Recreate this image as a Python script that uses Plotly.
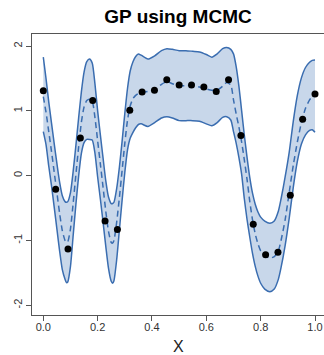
import plotly.graph_objects as go

# observed data points
obs_x = [0.0, 0.0455, 0.0909, 0.1364, 0.1818, 0.2273, 0.2727, 0.3182, 0.3636, 0.4091, 0.4545,
         0.5, 0.5455, 0.5909, 0.6364, 0.6818, 0.7273, 0.7727, 0.8182, 0.8636, 0.9091, 0.9545, 1.0]
obs_y = [1.31, -0.21, -1.13, 0.58, 1.16, -0.70, -0.83, 1.01, 1.29, 1.32, 1.48,
         1.40, 1.40, 1.37, 1.30, 1.48, 0.62, -0.75, -1.22, -1.18, -0.30, 0.87, 1.26]

# posterior curves
grid_x = [0.00, 0.01, 0.02, 0.03, 0.04, 0.05, 0.06, 0.07, 0.08, 0.085, 0.09, 0.10, 0.11, 0.12, 0.13,
          0.14, 0.15, 0.16, 0.17, 0.18, 0.19, 0.20, 0.21, 0.22, 0.23, 0.24, 0.25, 0.255, 0.26, 0.27,
          0.28, 0.29, 0.30, 0.31, 0.32, 0.33, 0.34, 0.35, 0.36, 0.385, 0.41, 0.435, 0.455, 0.475,
          0.50, 0.525, 0.55, 0.575, 0.60, 0.62, 0.64, 0.66, 0.675, 0.69, 0.70, 0.71, 0.72, 0.73,
          0.74, 0.75, 0.76, 0.77, 0.78, 0.79, 0.80, 0.815, 0.834, 0.85, 0.865, 0.875, 0.89, 0.905,
          0.92, 0.935, 0.95, 0.965, 0.98, 0.99, 1.00]
mean_y = [1.22, 0.98, 0.68, 0.38, 0.06, -0.26, -0.58, -0.85, -1.00, -1.03, -1.02, -0.82, -0.42, 0.02, 0.44,
          0.82, 1.06, 1.16, 1.18, 1.15, 0.90, 0.54, 0.18, -0.18, -0.55, -0.86, -1.03, -1.04, -1.00, -0.72,
          -0.34, 0.08, 0.50, 0.86, 1.08, 1.19, 1.24, 1.27, 1.28, 1.30, 1.33, 1.41, 1.45, 1.42,
          1.39, 1.39, 1.39, 1.37, 1.34, 1.32, 1.32, 1.38, 1.44, 1.40, 1.17, 0.95, 0.75, 0.52,
          0.24, -0.06, -0.40, -0.68, -0.90, -1.05, -1.16, -1.24, -1.27, -1.25, -1.16, -1.00, -0.68, -0.26,
          0.16, 0.52, 0.82, 1.04, 1.17, 1.22, 1.25]
upper_y = [1.83, 1.50, 1.14, 0.82, 0.50, 0.19, -0.10, -0.31, -0.40, -0.41, -0.40, -0.26, 0.07, 0.47, 0.89,
           1.29, 1.60, 1.76, 1.80, 1.74, 1.42, 1.00, 0.63, 0.27, -0.08, -0.33, -0.43, -0.43, -0.41, -0.20,
           0.13, 0.53, 0.96, 1.35, 1.62, 1.76, 1.84, 1.88, 1.86, 1.80, 1.85, 1.93, 1.96, 1.95,
           1.93, 1.93, 1.92, 1.91, 1.87, 1.83, 1.88, 1.96, 1.98, 1.95, 1.88, 1.68, 1.38, 1.00,
           0.62, 0.28, -0.03, -0.27, -0.44, -0.56, -0.64, -0.70, -0.735, -0.70, -0.55, -0.36, -0.02, 0.36,
           0.84, 1.24, 1.51, 1.67, 1.75, 1.78, 1.785]
lower_y = [0.68, 0.48, 0.15, -0.15, -0.48, -0.82, -1.16, -1.45, -1.60, -1.65, -1.64, -1.40, -0.92, -0.44, -0.01,
           0.34, 0.51, 0.56, 0.56, 0.55, 0.35, -0.02, -0.36, -0.72, -1.09, -1.43, -1.63, -1.66, -1.62, -1.30,
           -0.84, -0.38, 0.05, 0.40, 0.58, 0.67, 0.74, 0.79, 0.80, 0.76, 0.82, 0.89, 0.91, 0.89,
           0.85, 0.85, 0.85, 0.84, 0.80, 0.77, 0.82, 0.90, 0.91, 0.86, 0.68, 0.50, 0.28, 0.02,
           -0.36, -0.68, -0.95, -1.20, -1.40, -1.55, -1.66, -1.75, -1.79, -1.75, -1.60, -1.42, -1.08, -0.66,
           -0.18, 0.22, 0.49, 0.63, 0.70, 0.71, 0.67]

x_ticks = [0.0, 0.2, 0.4, 0.6, 0.8, 1.0]
x_tick_labels = ["0.0", "0.2", "0.4", "0.6", "0.8", "1.0"]
y_ticks = [-2, -1, 0, 1, 2]
y_tick_labels = ["-2", "-1", "0", "1", "2"]

LINE = "#3a6db0"
FILL = "#c8d7ea"

fig = go.Figure()
fig.add_trace(go.Scatter(x=grid_x, y=upper_y, mode="lines", line=dict(color=LINE, width=1.5, shape="spline", smoothing=0.6),
                         hoverinfo="skip", showlegend=False))
fig.add_trace(go.Scatter(x=grid_x, y=lower_y, mode="lines", line=dict(color=LINE, width=1.5, shape="spline", smoothing=0.6),
                         fill="tonexty", fillcolor=FILL, hoverinfo="skip", showlegend=False))
fig.add_trace(go.Scatter(x=grid_x, y=mean_y, mode="lines", line=dict(color=LINE, width=1.5, dash="6px,4px", shape="spline", smoothing=0.6),
                         showlegend=False))
fig.add_trace(go.Scatter(x=obs_x, y=obs_y, mode="markers", marker=dict(color="black", size=7),
                         showlegend=False))

AXC = "#555555"
fig.update_layout(
    width=324, height=355,
    margin=dict(l=32, r=0, t=34, b=40),
    paper_bgcolor="white", plot_bgcolor="white",
    font=dict(family="Liberation Sans, Arial, sans-serif", color="#333333"),
    title=dict(text="<b>GP using MCMC</b>", x=0.5, xref="paper", y=1 - 16 / 355, yref="container",
               xanchor="center", yanchor="middle", font=dict(size=19, color="black")),
    xaxis=dict(range=[-0.0416, 1.0331], tickvals=x_ticks, ticktext=x_tick_labels, showgrid=False, zeroline=False,
               showline=True, linecolor=AXC, linewidth=1, mirror=True, ticks="outside", ticklen=5, tickcolor=AXC,
               ticklabelstandoff=-3, tickfont=dict(size=11, color="#333333")),
    yaxis=dict(range=[-2.15, 2.187], tickvals=y_ticks, ticktext=y_tick_labels, showgrid=False, zeroline=False,
               showline=True, linecolor=AXC, linewidth=1, ticks="outside", ticklen=5, tickcolor=AXC,
               tickangle=-90, tickfont=dict(size=11, color="#333333")),
    annotations=[dict(text="X", x=0.5, xref="paper", y=(315 - 346) / 281, yref="paper", yanchor="middle",
                      showarrow=False, font=dict(size=16, color="#222222"))],
)
fig.write_html("out.html")
